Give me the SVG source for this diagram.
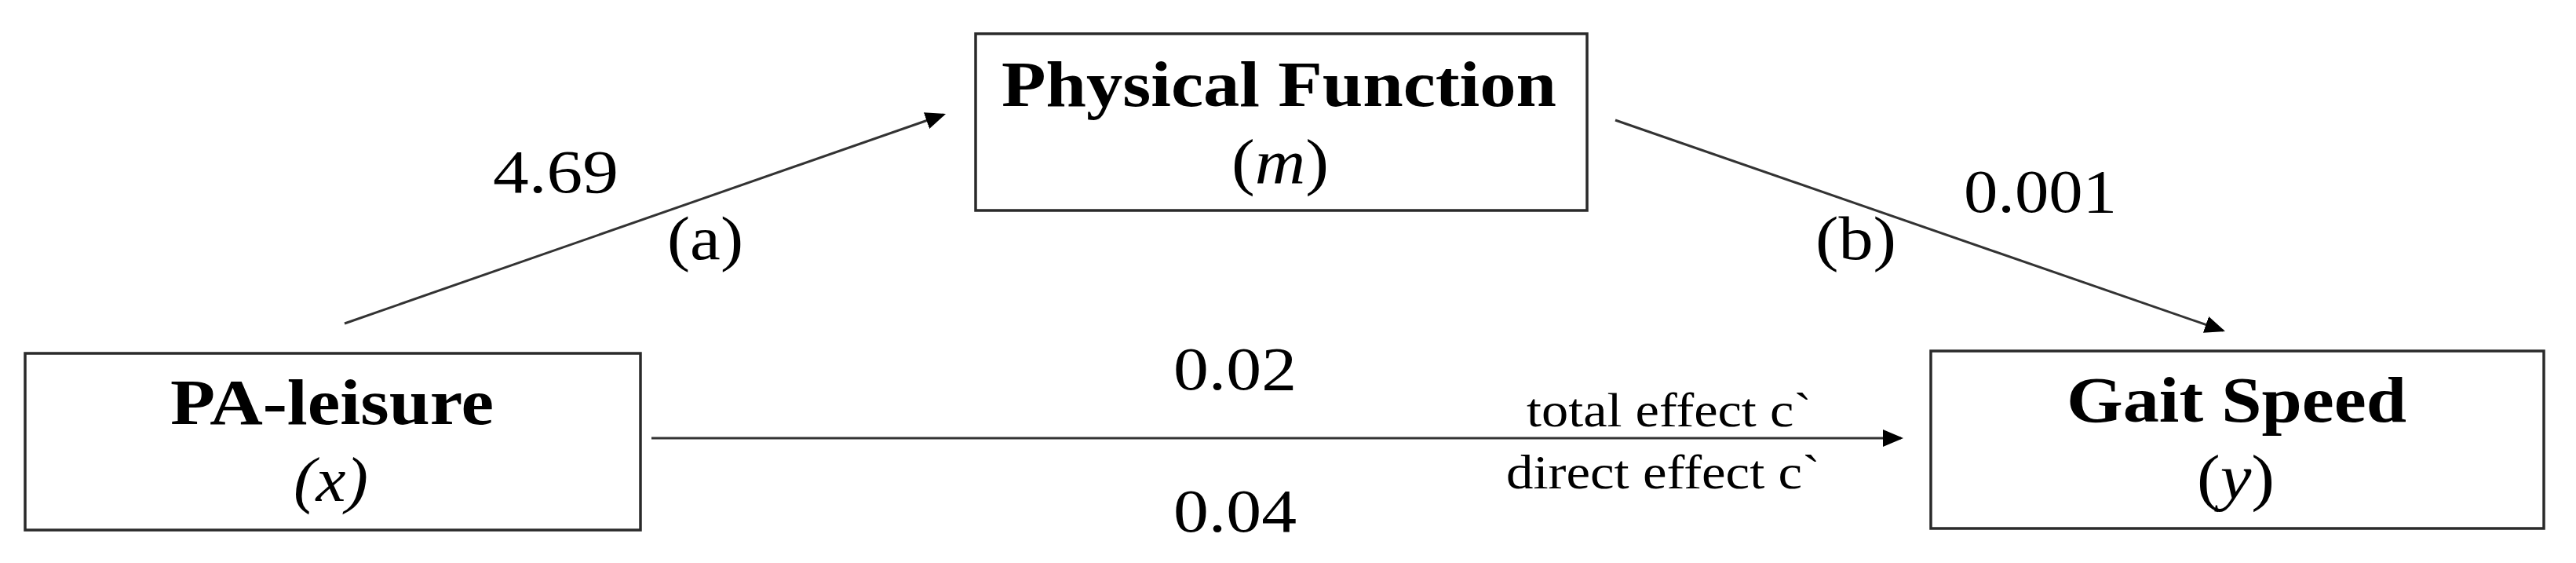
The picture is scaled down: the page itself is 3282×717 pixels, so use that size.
<svg xmlns="http://www.w3.org/2000/svg" width="3282" height="717" viewBox="0 0 3282 717">
<defs>
<style>
.box{fill:#fff;stroke:#2a2a2a;stroke-width:3.5}
.edge{stroke:#333;stroke-width:3;fill:none}
.t{font-family:"Liberation Serif","Times New Roman",serif;fill:#000}
.title{font-size:82px;font-weight:bold}
.var{font-size:80px}
.lbl{font-size:78px}
.small{font-size:62px}
</style>
<marker id="arr" markerUnits="userSpaceOnUse" markerWidth="26" markerHeight="22" refX="23" refY="11" orient="auto" viewBox="0 0 26 22">
<path d="M0,0 L26,11 L0,22 Z" fill="#000"/>
</marker>
</defs>
<rect width="3282" height="717" fill="#fff"/>
<g id="connectors">
<line class="edge" x1="439" y1="412" x2="1202.2" y2="146" marker-end="url(#arr)"/>
<line class="edge" x1="2058" y1="153" x2="2832.2" y2="421" marker-end="url(#arr)"/>
<line class="edge" x1="830" y1="558" x2="2422" y2="558" marker-end="url(#arr)"/>
<text class="t lbl" x="628" y="245" textLength="160" lengthAdjust="spacingAndGlyphs">4.69</text>
<text class="t lbl" x="850" y="330" textLength="97" lengthAdjust="spacingAndGlyphs">(a)</text>
<text class="t lbl" x="2502" y="270" textLength="195" lengthAdjust="spacingAndGlyphs">0.001</text>
<text class="t lbl" x="2313" y="330" textLength="103" lengthAdjust="spacingAndGlyphs">(b)</text>
<text class="t lbl" x="1495" y="496" textLength="157" lengthAdjust="spacingAndGlyphs">0.02</text>
<text class="t lbl" x="1495" y="677" textLength="157" lengthAdjust="spacingAndGlyphs">0.04</text>
<text class="t small" x="1945" y="543" textLength="363" lengthAdjust="spacingAndGlyphs">total effect c`</text>
<text class="t small" x="1919" y="622" textLength="400" lengthAdjust="spacingAndGlyphs">direct effect c`</text>
</g>
<g id="node-x">
<rect class="box" x="32" y="450" width="784" height="225"/>
<text class="t title" x="217" y="540" textLength="412" lengthAdjust="spacingAndGlyphs">PA-leisure</text>
<text class="t var" x="374" y="638" font-style="italic" textLength="95" lengthAdjust="spacingAndGlyphs">(x)</text>
</g>
<g id="node-m">
<rect class="box" x="1243" y="43" width="779" height="225"/>
<text class="t title" x="1276" y="135" textLength="707" lengthAdjust="spacingAndGlyphs">Physical Function</text>
<text class="t var" x="1569" y="233" textLength="124" lengthAdjust="spacingAndGlyphs">(<tspan font-style="italic">m</tspan>)</text>
</g>
<g id="node-y">
<rect class="box" x="2460" y="447" width="781" height="226"/>
<text class="t title" x="2633" y="537" textLength="433" lengthAdjust="spacingAndGlyphs">Gait Speed</text>
<text class="t var" x="2799" y="635" textLength="99" lengthAdjust="spacingAndGlyphs">(<tspan font-style="italic">y</tspan>)</text>
</g>
</svg>
